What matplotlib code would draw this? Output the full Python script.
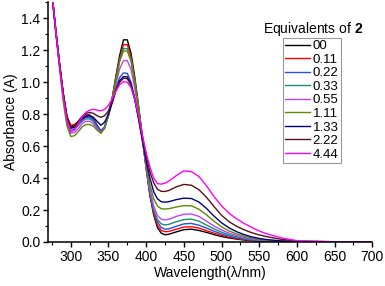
import matplotlib
matplotlib.use("Agg")
import matplotlib.pyplot as plt
from matplotlib.ticker import MultipleLocator

plt.rcParams['font.family'] = ['Liberation Sans', 'DejaVu Sans']
plt.rcParams['mathtext.fontset'] = 'custom'
plt.rcParams['mathtext.rm'] = 'Liberation Sans'
plt.rcParams['mathtext.bf'] = 'Liberation Sans:bold'

wavelength = [270, 275, 280, 285, 290, 295, 300, 305, 310, 315, 320, 325, 330, 335, 340,
              345, 350, 355, 360, 365, 370, 375, 380, 385, 390, 395, 400, 405, 410, 415,
              420, 425, 430, 440, 450, 460, 470, 480, 490, 500, 510, 520, 530, 540, 550,
              560, 580, 600, 650, 700]

eq_00 = [1.78, 1.56, 1.33, 1.12, 0.93, 0.78, 0.725, 0.73, 0.755, 0.78, 0.795, 0.795, 0.775, 0.73, 0.695,
         0.72, 0.80, 0.90, 1.04, 1.17, 1.265, 1.265, 1.18, 1.03, 0.85, 0.66, 0.46, 0.29, 0.17, 0.09,
         0.055, 0.045, 0.048, 0.063, 0.077, 0.08, 0.072, 0.06, 0.046, 0.034, 0.025, 0.018, 0.012, 0.008, 0.006,
         0.004, 0.002, 0.001, 0, 0]
eq_011 = [1.78, 1.56, 1.33, 1.12, 0.93, 0.785, 0.73, 0.735, 0.755, 0.775, 0.79, 0.79, 0.77, 0.725, 0.69,
          0.72, 0.80, 0.90, 1.03, 1.15, 1.235, 1.235, 1.16, 1.015, 0.84, 0.655, 0.465, 0.30, 0.18, 0.105,
          0.072, 0.064, 0.066, 0.08, 0.093, 0.095, 0.087, 0.071, 0.055, 0.041, 0.03, 0.021, 0.015, 0.01, 0.007,
          0.005, 0.002, 0.001, 0, 0]
eq_022 = [1.78, 1.56, 1.33, 1.12, 0.92, 0.77, 0.71, 0.715, 0.74, 0.765, 0.78, 0.78, 0.765, 0.725, 0.695,
          0.72, 0.79, 0.88, 0.97, 1.03, 1.058, 1.055, 1.0, 0.9, 0.77, 0.63, 0.48, 0.32, 0.2, 0.125,
          0.09, 0.08, 0.082, 0.098, 0.113, 0.116, 0.105, 0.087, 0.067, 0.05, 0.036, 0.026, 0.018, 0.012, 0.009,
          0.006, 0.003, 0.001, 0, 0]
eq_033 = [1.78, 1.56, 1.33, 1.11, 0.91, 0.76, 0.70, 0.705, 0.73, 0.755, 0.77, 0.77, 0.755, 0.715, 0.685,
          0.715, 0.795, 0.895, 1.02, 1.14, 1.21, 1.21, 1.14, 1.0, 0.83, 0.65, 0.47, 0.31, 0.2, 0.14,
          0.113, 0.107, 0.11, 0.127, 0.14, 0.143, 0.13, 0.106, 0.082, 0.061, 0.045, 0.032, 0.022, 0.015, 0.011,
          0.007, 0.003, 0.001, 0, 0]
eq_055 = [1.78, 1.56, 1.33, 1.11, 0.9, 0.745, 0.68, 0.685, 0.71, 0.74, 0.755, 0.755, 0.74, 0.71, 0.685,
          0.715, 0.79, 0.885, 0.99, 1.085, 1.135, 1.135, 1.08, 0.96, 0.81, 0.645, 0.48, 0.33, 0.225, 0.165,
          0.143, 0.138, 0.142, 0.16, 0.173, 0.175, 0.16, 0.13, 0.1, 0.075, 0.055, 0.04, 0.028, 0.019, 0.013,
          0.009, 0.004, 0.001, 0, 0]
eq_111 = [1.76, 1.54, 1.31, 1.09, 0.88, 0.725, 0.66, 0.665, 0.69, 0.72, 0.735, 0.735, 0.725, 0.7, 0.68,
          0.71, 0.79, 0.89, 1.01, 1.13, 1.195, 1.195, 1.13, 1.0, 0.835, 0.66, 0.49, 0.36, 0.27, 0.225,
          0.208, 0.206, 0.208, 0.219, 0.227, 0.226, 0.205, 0.17, 0.13, 0.095, 0.069, 0.05, 0.036, 0.025, 0.017,
          0.011, 0.005, 0.002, 0, 0]
eq_133 = [1.78, 1.56, 1.33, 1.12, 0.93, 0.78, 0.715, 0.72, 0.745, 0.77, 0.785, 0.79, 0.78, 0.755, 0.73,
          0.75, 0.8, 0.87, 0.95, 1.01, 1.035, 1.033, 0.985, 0.89, 0.77, 0.64, 0.51, 0.4, 0.315, 0.27,
          0.252, 0.249, 0.252, 0.265, 0.274, 0.272, 0.25, 0.21, 0.162, 0.12, 0.088, 0.064, 0.046, 0.032, 0.022,
          0.015, 0.006, 0.002, 0, 0]
eq_222 = [1.78, 1.56, 1.33, 1.12, 0.93, 0.785, 0.72, 0.725, 0.755, 0.785, 0.805, 0.81, 0.805, 0.79, 0.78,
          0.79, 0.82, 0.88, 0.95, 1.0, 1.025, 1.022, 0.98, 0.89, 0.78, 0.66, 0.54, 0.44, 0.37, 0.33,
          0.317, 0.316, 0.322, 0.345, 0.36, 0.355, 0.327, 0.28, 0.222, 0.167, 0.127, 0.098, 0.076, 0.058, 0.044,
          0.033, 0.016, 0.006, 0.001, 0]
eq_444 = [1.78, 1.56, 1.33, 1.11, 0.91, 0.76, 0.69, 0.7, 0.74, 0.78, 0.81, 0.825, 0.83, 0.825, 0.82,
          0.83, 0.855, 0.895, 0.945, 0.985, 1.003, 1.0, 0.965, 0.89, 0.79, 0.67, 0.56, 0.47, 0.4, 0.365,
          0.362, 0.368, 0.38, 0.415, 0.445, 0.44, 0.41, 0.352, 0.285, 0.226, 0.18, 0.145, 0.116, 0.091, 0.069,
          0.051, 0.025, 0.008, 0.001, 0]

labels = ['00', '0.11', '0.22', '0.33', '0.55', '1.11', '1.33', '2.22', '4.44']
series = [eq_00, eq_011, eq_022, eq_033, eq_055, eq_111, eq_133, eq_222, eq_444]
colors = ['#000000', '#ff0000', '#2a4fd8', '#1a8c7c', '#c040ff', '#5a8c00',
          '#000080', '#5a0f1e', '#ff00ff']

fig = plt.figure(figsize=(3.85, 2.86), dpi=100)
ax = fig.add_axes([0.125, 0.154, 0.842, 0.838])

for y, c, lab in zip(series, colors, labels):
    ax.plot(wavelength, y, color=c, lw=1.0, label=lab)

ax.set_xlim(270, 700)
ax.set_ylim(0, 1.5)
ax.xaxis.set_minor_locator(MultipleLocator(25))
ax.yaxis.set_minor_locator(MultipleLocator(0.1))
ax.set_xticks([300, 350, 400, 450, 500, 550, 600, 650, 700])
ax.set_yticks([0.0, 0.2, 0.4, 0.6, 0.8, 1.0, 1.2, 1.4])
ax.set_yticklabels(['0.0', '0.2', '0.4', '0.6', '0.8', '1.0', '1.2', '1.4'])

for s in ['top', 'right']:
    ax.spines[s].set_visible(False)
for s in ['left', 'bottom']:
    ax.spines[s].set_linewidth(1.1)
ax.tick_params(which='major', direction='out', length=3.5, width=1.0, labelsize=10, pad=2)
ax.tick_params(which='minor', direction='out', length=2, width=0.8)

ax.set_xlabel('Wavelength(\u03bb/nm)', fontsize=10, labelpad=2)
ax.set_ylabel('Absorbance (A)', fontsize=10, labelpad=2)

leg = ax.legend(loc='upper left', bbox_to_anchor=(283 / 385, 1 - 38 / 286),
                bbox_transform=fig.transFigure, borderaxespad=0, fontsize=9.5,
                handlelength=1.9, handletextpad=0.2, labelspacing=0.1,
                borderpad=0.15, fancybox=False, framealpha=1, edgecolor='#999999')
leg.get_frame().set_linewidth(0.8)

fig.text(313 / 385, 1 - 29 / 286, 'Equivalents of $\\mathbf{2}$', ha='center', va='center',
         fontsize=10)

fig.savefig('out.png', dpi=100)
